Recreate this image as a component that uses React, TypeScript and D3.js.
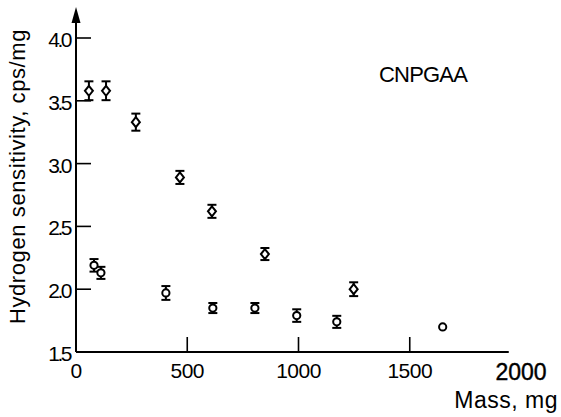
import React from "react";
import * as d3 from "d3";

// Data
const diamondMass = [58, 135, 269, 467, 611, 849, 1248];
const diamondSens = [3.58, 3.58, 3.33, 2.89, 2.62, 2.28, 2.0];
const diamondErr = [0.075, 0.075, 0.068, 0.052, 0.052, 0.048, 0.055];

const circleMass = [81, 112, 404, 615, 804, 992, 1172, 1648];
const circleSens = [2.19, 2.13, 1.97, 1.85, 1.85, 1.79, 1.74, 1.7];
const circleErr = [0.05, 0.048, 0.055, 0.04, 0.04, 0.05, 0.048, 0];

const xTicks = [0, 500, 1000, 1500, 2000];
const xTickLabels = ["0", "500", "1000", "1500", "2000"];
const yTicks = [1.5, 2.0, 2.5, 3.0, 3.5, 4.0];
const yTickLabels = ["1.5", "2.0", "2.5", "3.0", "3.5", "4.0"];

const width = 561;
const height = 417;
const left = 76;
const bottom = 352;
const top = 38;
const xAxisEnd = 1945; // axis line stops a little short of 2000

const font = "'Liberation Sans', Arial, sans-serif";

const App = () => {
  const x = d3.scaleLinear().domain([0, 2000]).range([left, 521]);
  const y = d3.scaleLinear().domain([1.5, 4.0]).range([bottom, top]);

  const diamonds = diamondMass.map((m, i) => ({ m, v: diamondSens[i], e: diamondErr[i] }));
  const circles = circleMass.map((m, i) => ({ m, v: circleSens[i], e: circleErr[i] }));

  const errBar = (d: { m: number; v: number; e: number }, key: string) => {
    if (!d.e) return null;
    const cx = x(d.m);
    const y1 = y(d.v + d.e);
    const y2 = y(d.v - d.e);
    return (
      <g key={key} stroke="#000" strokeWidth={2}>
        <line x1={cx} x2={cx} y1={y1} y2={y2} />
        <line x1={cx - 4.5} x2={cx + 4.5} y1={y1} y2={y1} />
        <line x1={cx - 4.5} x2={cx + 4.5} y1={y2} y2={y2} />
      </g>
    );
  };

  return (
    <svg
      width={width}
      height={height}
      style={{ position: "absolute", left: 0, top: 0, background: "#fff" }}
    >
      {/* y axis with arrow */}
      <line x1={left} x2={left} y1={bottom} y2={20} stroke="#000" strokeWidth={2} />
      <path d={`M${left - 4.5},23 L${left},7 L${left + 4.5},23 Z`} fill="#000" />
      {/* x axis */}
      <line x1={left} x2={x(xAxisEnd)} y1={bottom} y2={bottom} stroke="#000" strokeWidth={2} />

      {/* y ticks inward */}
      {yTicks.filter((t) => t > 1.5).map((t) => (
        <line key={"yt" + t} x1={left} x2={left + 15} y1={y(t)} y2={y(t)} stroke="#000" strokeWidth={1.6} />
      ))}
      {yTicks.map((t, i) => (
        <text
          key={"yl" + t}
          x={70}
          y={y(t) + 9}
          textAnchor="end"
          fontFamily={font}
          fontSize={21}
          letterSpacing={-2.5}
        >
          {yTickLabels[i]}
        </text>
      ))}

      {/* x ticks inward */}
      {xTicks.filter((t) => t > 0 && t < 2000).map((t) => (
        <line key={"xt" + t} x1={x(t)} x2={x(t)} y1={bottom} y2={bottom - 15} stroke="#000" strokeWidth={1.6} />
      ))}
      {xTicks.map((t, i) => (
        <text
          key={"xl" + t}
          x={x(t)}
          y={t === 2000 ? 380 : 378}
          textAnchor="middle"
          fontFamily={font}
          fontSize={t === 2000 ? 23 : 21}
          stroke={t === 2000 ? "#000" : "none"}
          strokeWidth={0.4}
          letterSpacing={t === 2000 ? 0 : -0.5}
        >
          {xTickLabels[i]}
        </text>
      ))}

      {/* axis titles */}
      <text
        transform="translate(25,176.5) rotate(-90)"
        textAnchor="middle"
        fontFamily={font}
        fontSize={22}
        letterSpacing={0.6}
      >
        Hydrogen sensitivity, cps/mg
      </text>
      <text x={558} y={408} textAnchor="end" fontFamily={font} fontSize={23} letterSpacing={0.5}>
        Mass, mg
      </text>
      <text x={379} y={82} fontFamily={font} fontSize={22} letterSpacing={-0.8}>
        CNPGAA
      </text>

      {/* error bars */}
      {diamonds.map((d, i) => errBar(d, "de" + i))}
      {circles.map((d, i) => errBar(d, "ce" + i))}

      {/* diamond markers */}
      {diamonds.map((d, i) => {
        const cx = x(d.m);
        const cy = y(d.v);
        return (
          <path
            key={"d" + i}
            d={`M${cx},${cy - 5} L${cx + 4},${cy} L${cx},${cy + 5} L${cx - 4},${cy} Z`}
            fill="#fff"
            stroke="#000"
            strokeWidth={2}
          />
        );
      })}
      {/* circle markers */}
      {circles.map((d, i) => (
        <circle key={"c" + i} cx={x(d.m)} cy={y(d.v)} r={3.6} fill="#fff" stroke="#000" strokeWidth={2} />
      ))}
    </svg>
  );
};

export default App;
